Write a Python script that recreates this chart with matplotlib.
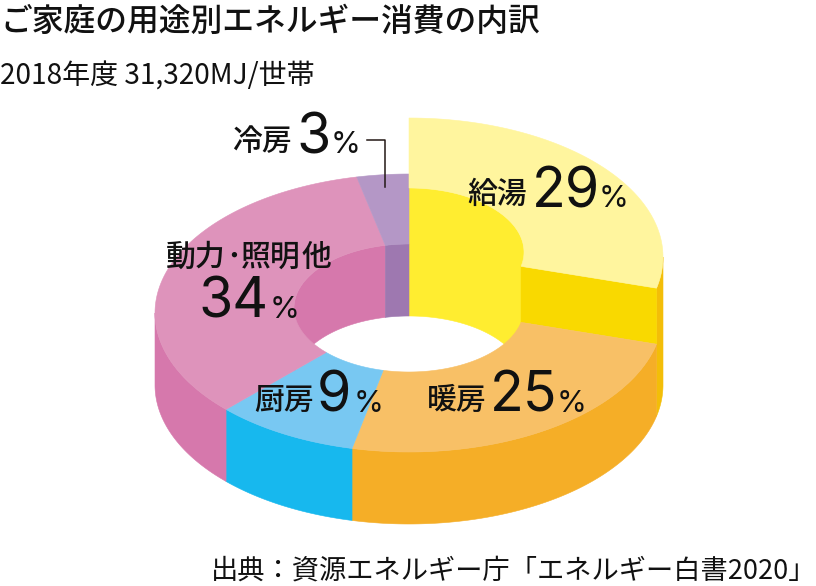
import numpy as np
import matplotlib
matplotlib.use("Agg")
from matplotlib import pyplot as plt
from matplotlib.patches import Polygon

plt.rcParams['font.family'] = ['Noto Sans CJK JP', 'DejaVu Sans']

# shares, labels show them rounded
categories = ['給湯', '暖房', '厨房', '動力･照明 他', '冷房']
shares = [28.6, 25.0, 9.2, 33.9, 3.3]

top_colors = ['#FFF59E', '#F8C066', '#78C8F2', '#DE93BB', '#B497C6']
wall_colors = ['#F3BE08', '#F5AE27', '#17B8EE', '#D678AC', '#9E78B0']
inner_colors = ['#FFED30', '#F5AE27', '#17B8EE', '#D678AC', '#9E78B0']
cut_color = '#F9D900'
text_color = '#111111'

# ring geometry in pixels
CX = 409
CY = 313
INNER_CY = 308
RX, RY = 254, 139
IRX, IRY = 115, 64
DEPTH = 72
RAISE = 56

# label anchors: name x, name baseline, number x, number baseline, percent x
label_pos = [
    (467, 203, 532, 207, 599),
    (427, 409, 490, 412, 557),
    (254, 409, 317, 412, 354),
    (166, 266, 198, 318, 270),
    (232, 150, 296, 153, 331),
]


def arc(cx, cy, rx, ry, a0, a1):
    # angle is clockwise from the top of the ellipse
    t = np.radians(np.linspace(a0, a1, 120))
    return np.column_stack([cx + rx * np.sin(t), cy - ry * np.cos(t)])


def fill(ax, pts, color, z):
    ax.add_patch(Polygon(pts, closed=True, facecolor=color, edgecolor=color, linewidth=0.4, zorder=z))


def draw_slice_top(ax, a0, a1, lift, color, z):
    outer = arc(CX, CY - lift, RX, RY, a0, a1)
    inner = arc(CX, INNER_CY - lift, IRX, IRY, a0, a1)
    fill(ax, np.vstack([outer, inner[::-1]]), color, z)


def draw_name(ax, x, y, name):
    kw = dict(fontsize=21.5, color=text_color, fontweight='medium', ha='left', va='baseline', zorder=10)
    if '･' not in name:
        ax.text(x, y, name, **kw)
        return
    # the dot is set tight in the reference, so the pieces go one by one
    left, right = name.split('･')
    first, last = right.split(' ')
    ax.text(x, y, left, **kw)
    ax.text(x + 60, y, '･', **kw)
    ax.text(x + 75, y, first, **kw)
    ax.text(x + 136, y, last, **kw)


fig = plt.figure(figsize=(8.16, 5.86), dpi=100)
ax = fig.add_axes([0, 0, 1, 1])
ax.set_xlim(0, 816)
ax.set_ylim(586, 0)
ax.axis('off')

edges = np.concatenate([[0], np.cumsum(shares)]) * 3.6

# walls first, the tops are painted over them
for i, (a0, a1) in enumerate(zip(edges[:-1], edges[1:])):
    lift = RAISE if i == 0 else 0
    # outer wall, only the front half can be seen
    lo, hi = max(a0, 90), min(a1, 270)
    if lo < hi:
        upper = arc(CX, CY - lift, RX, RY, lo, hi)
        lower = arc(CX, CY + DEPTH, RX, RY, lo, hi)
        fill(ax, np.vstack([upper, lower[::-1]]), wall_colors[i], 1 if i == 0 else 2)

    # wall of the hole, only the back half can be seen
    for lo, hi in [(max(a0, 0), min(a1, 90)), (max(a0, 270), min(a1, 360))]:
        if lo < hi:
            upper = arc(CX, INNER_CY - lift, IRX, IRY, lo, hi)
            lower = arc(CX, INNER_CY + DEPTH, IRX, IRY, lo, hi)
            fill(ax, np.vstack([upper, lower[::-1]]), inner_colors[i], 3)

# a bit of the raised wall runs past 90 degrees before the cut
upper = arc(CX, INNER_CY - RAISE, IRX, IRY, 90, edges[1])
lower = arc(CX, INNER_CY + DEPTH, IRX, IRY, 90, edges[1])
fill(ax, np.vstack([upper, lower[::-1]]), inner_colors[0], 3)

# cut face of the raised slice
top_cut = np.vstack([arc(CX, CY - RAISE, RX, RY, edges[1], edges[1]),
                     arc(CX, INNER_CY - RAISE, IRX, IRY, edges[1], edges[1])])
top_cut = np.array([top_cut[0], top_cut[-1]])
low_cut = top_cut + [0, RAISE]
fill(ax, np.vstack([top_cut, low_cut[::-1]]), cut_color, 4)

for i, (a0, a1) in enumerate(zip(edges[:-1], edges[1:])):
    draw_slice_top(ax, a0, a1, RAISE if i == 0 else 0, top_colors[i], 6 if i == 0 else 5)

# labels
for name, share, pos in zip(categories, shares, label_pos):
    nx, ny, vx, vy, px = pos
    draw_name(ax, nx, ny, name)
    ax.text(vx, vy, str(round(share)), fontsize=40, family=['Inter', 'DejaVu Sans'], color=text_color,
            ha='left', va='baseline', zorder=10)
    ax.text(px, vy, '%', fontsize=22, family=['Inter', 'DejaVu Sans'], color=text_color,
            ha='left', va='baseline', zorder=10)

# leader for the small slice
ax.plot([367, 385, 385], [140, 140, 187], color='#231815', linewidth=1.1, zorder=10)

ax.text(0, 31, 'ご家庭の用途別エネルギー消費の内訳', fontsize=22.9, fontweight='medium', color=text_color, ha='left', va='baseline')
ax.text(0, 85, '2018年度 31,320MJ/世帯', fontsize=20.2, color=text_color, ha='left', va='baseline')
ax.text(816, 579, '出典：資源エネルギー庁「エネルギー白書2020」', fontsize=19.6, color=text_color, ha='right', va='baseline')

fig.savefig('out.png', dpi=100)
